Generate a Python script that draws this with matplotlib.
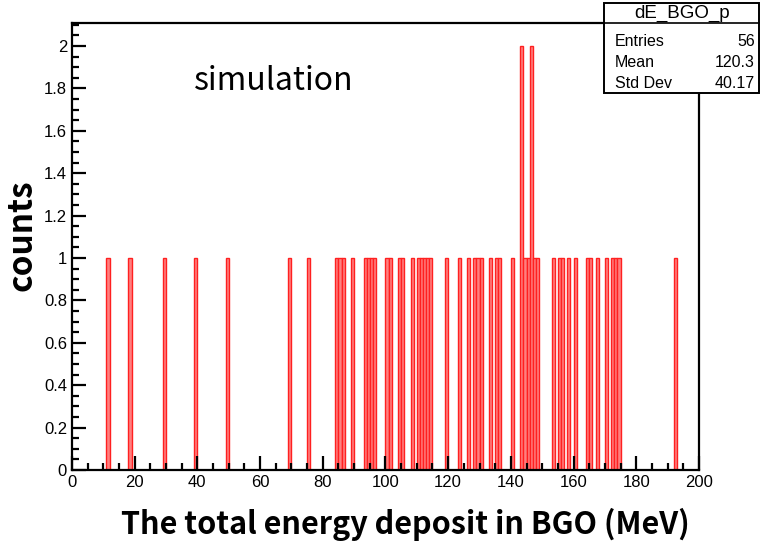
"""
Total energy deposit in BGO, simulated histogram (ROOT style).
"""

import matplotlib
matplotlib.use("Agg")
import matplotlib.pyplot as plt
from matplotlib.patches import Rectangle
from matplotlib.lines import Line2D
from matplotlib.ticker import MultipleLocator, FuncFormatter

# lower edge (MeV) of each non-empty 1 MeV bin and its count
bin_low = [11, 18, 29, 39, 49, 69, 75, 84, 85, 86, 89, 93, 94, 95, 96,
           100, 101, 104, 105, 108, 110, 111, 112, 113, 114, 119, 123, 126,
           128, 129, 130, 133, 135, 136, 140, 143, 144, 145, 146, 147, 148,
           153, 155, 156, 158, 160, 164, 165, 167, 170, 172, 173, 174, 192]
counts = [1, 1, 1, 1, 1, 1, 1, 1, 1, 1, 1, 1, 1, 1, 1,
          1, 1, 1, 1, 1, 1, 1, 1, 1, 1, 1, 1, 1,
          1, 1, 1, 1, 1, 1, 1, 2, 1, 1, 2, 1, 1,
          1, 1, 1, 1, 1, 1, 1, 1, 1, 1, 1, 1, 1]

hist_name = "dE_BGO_p"
stat_labels = ["Entries", "Mean", "Std Dev"]
stat_values = ["56", "120.3", "40.17"]

TICK_FONT = "Liberation Sans"
LABEL_FONT = ["Noto Sans CJK JP", "DejaVu Sans"]


def fmt_tick(value, _pos):
    return f"{value:g}"


fig = plt.figure(figsize=(7.6, 5.47), dpi=100)
ax = fig.add_axes([0.0947, 0.1408, 0.8250, 0.8170])

ax.bar(bin_low, counts, width=1, align="edge",
       facecolor="#ff7f7f", edgecolor="#ff2020", linewidth=1.0)

ax.set_xlim(0, 200)
ax.set_ylim(0, 2.108)

ax.xaxis.set_major_locator(MultipleLocator(20))
ax.xaxis.set_minor_locator(MultipleLocator(5))
ax.yaxis.set_major_locator(MultipleLocator(0.2))
ax.yaxis.set_minor_locator(MultipleLocator(0.05))
ax.xaxis.set_major_formatter(FuncFormatter(fmt_tick))
ax.yaxis.set_major_formatter(FuncFormatter(fmt_tick))

ax.tick_params(which="both", direction="in", width=1.6, color="black",
               top=False, right=False)
ax.tick_params(which="major", length=10, labelsize=12)
ax.tick_params(which="minor", length=5)
for label in ax.get_xticklabels() + ax.get_yticklabels():
    label.set_fontfamily(TICK_FONT)

for spine in ax.spines.values():
    spine.set_linewidth(1.6)

ax.set_xlabel("The total energy deposit in BGO (MeV)", family=LABEL_FONT,
              fontweight="bold", fontsize=22)
ax.xaxis.set_label_coords(0.531, -0.085)
ax.set_ylabel("counts", family=LABEL_FONT, fontweight="bold", fontsize=24)
ax.yaxis.set_label_coords(-0.054, 0.526)

ax.text(0.195, 0.87, "simulation", transform=ax.transAxes,
        family=LABEL_FONT, fontsize=23, va="center", ha="left")

# ROOT stat box
W, H = 760, 547
box_l, box_t, box_b = 604, 3, 93
fig.add_artist(Rectangle((box_l / W, 1 - box_b / H), (W - 1 - box_l) / W,
                         (box_b - box_t) / H, transform=fig.transFigure,
                         facecolor="white", edgecolor="black", linewidth=1.4))
fig.add_artist(Line2D([box_l / W, (W - 1) / W], [1 - 23 / H, 1 - 23 / H],
                      transform=fig.transFigure, color="black", linewidth=1.2))
fig.text((box_l + W) / 2 / W, 1 - 13 / H, hist_name, family=TICK_FONT,
         fontsize=13.5, ha="center", va="center")
for i, (name, val) in enumerate(zip(stat_labels, stat_values)):
    y = 1 - (41 + 21.5 * i) / H
    fig.text((box_l + 11) / W, y, name, family=TICK_FONT, fontsize=11.5,
             ha="left", va="center")
    fig.text((W - 5) / W, y, val, family=TICK_FONT, fontsize=11.5,
             ha="right", va="center")

fig.savefig("out.png", dpi=100)
